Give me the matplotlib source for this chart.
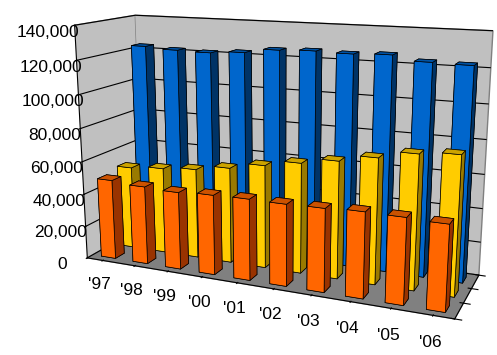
import numpy as np
import matplotlib
matplotlib.use('Agg')
import matplotlib.pyplot as plt
from matplotlib.ticker import FuncFormatter

# data
years = ["'97", "'98", "'99", "'00", "'01", "'02", "'03", "'04", "'05", "'06"]
orange_vals = [48800, 47400, 46600, 47600, 48000, 47800, 48200, 49100, 48900, 48200]
yellow_vals = [51200, 53000, 54800, 58000, 61900, 65600, 69100, 73200, 77600, 79400]
blue_vals = [123000, 121800, 121400, 122700, 125300, 126000, 125500, 126200, 123400, 123000]

# front, side, top colours per series (front row first)
series = [
    (orange_vals, '#FF6600', '#993300', '#CC5200'),
    (yellow_vals, '#FFCC00', '#997A00', '#CCA300'),
    (blue_vals, '#0066CC', '#003366', '#0052A3'),
]

plt.rcParams['font.family'] = ['Liberation Sans', 'DejaVu Sans']

fig = plt.figure(figsize=(4.97, 3.55), dpi=100)
ax = fig.add_axes([-0.058, -0.093, 1.21, 1.3], projection='3d', proj_type='persp', focal_length=0.36)

bw = 0.45
xs, ys, hs, cols = [], [], [], []
for row, (vals, front, side, top) in enumerate(series):
    for i, v in enumerate(vals):
        xs.append(i + 0.5 - bw / 2)
        ys.append(row + 0.5 - bw / 2)
        hs.append(v)
        # faces: -z, +z, -y, +y, -x, +x
        cols += [side, top, front, front, side, side]

ax.bar3d(xs, ys, np.zeros(len(xs)), bw, bw, hs, color=cols,
         shade=False, edgecolor='black', linewidth=0.5)

ax.set_xlim(0, len(years))
ax.set_ylim(0, 3)
ax.set_zlim(0, 140000)
ax.set_box_aspect((10.2, 2.95, 6.4), zoom=1.0)
ax.view_init(elev=14, azim=-67)

ax.set_xticks(np.arange(len(years)) + 0.5)
ax.set_xticklabels(years, fontsize=12.5)
ax.set_yticks([0, 1, 2, 3])
ax.set_yticklabels([])
ax.set_zticks(np.arange(0, 140001, 20000))
ax.zaxis.set_major_formatter(FuncFormatter(lambda v, p: f'{int(v):,}'))
ax.tick_params(axis='z', labelsize=12.5)
ax.zaxis.set_ticks_position('lower')

ax.xaxis.set_pane_color('#C0C0C0')
ax.yaxis.set_pane_color('#C0C0C0')
ax.zaxis.set_pane_color('#808080')
for a in (ax.xaxis, ax.yaxis, ax.zaxis):
    a.pane.set_edgecolor('#808080')
    a.line.set_color('black')
    a.line.set_linewidth(0.8)
    a._axinfo['grid']['color'] = 'black'
    a._axinfo['grid']['linewidth'] = 0.8
ax.xaxis._axinfo['grid']['linewidth'] = 0
ax.yaxis._axinfo['grid']['linewidth'] = 0

fig.savefig('out.png', dpi=100)
